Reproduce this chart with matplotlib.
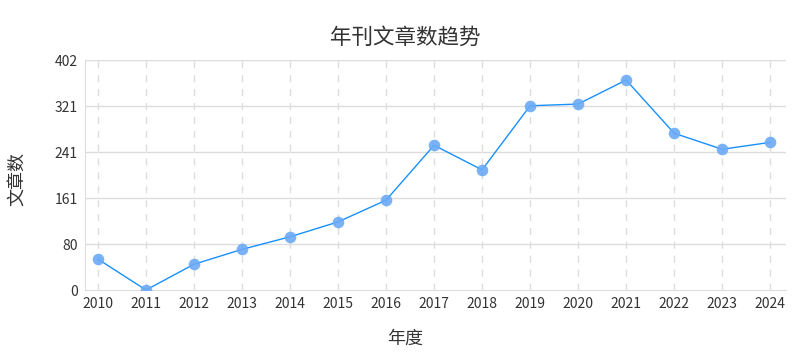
import matplotlib
matplotlib.use("Agg")
import matplotlib.pyplot as plt
import numpy as np

plt.rcParams['font.family'] = ['Noto Sans CJK SC', 'DejaVu Sans']

years = ['2010', '2011', '2012', '2013', '2014', '2015', '2016', '2017',
         '2018', '2019', '2020', '2021', '2022', '2023', '2024']
counts = [54, 0, 45, 71, 93, 119, 157, 253, 210, 322, 325, 367, 274, 246, 258]
y_max = 402
y_ticks = [0, 80.4, 160.8, 241.2, 321.6, 402]
y_tick_labels = ['0', '80', '161', '241', '321', '402']

fig = plt.figure(figsize=(8.1, 3.6), dpi=100)
ax = fig.add_axes([85/810, 1-290/360, (786-85)/810, 230/360])

x = np.arange(len(years))
ax.plot(x, counts, color='#1890ff', linewidth=1, zorder=3)
ax.scatter(x, counts, s=70, color='#6aaaf5', alpha=0.9, zorder=4, linewidths=0)

ax.set_xlim(-0.27, len(years) - 1 + 0.33)
ax.set_ylim(0, y_max)
ax.set_xticks(x)
ax.set_xticklabels(years)
ax.set_yticks(y_ticks)
ax.set_yticklabels(y_tick_labels)

for yt in y_ticks[1:]:
    ax.axhline(yt, color='#dddddd', linewidth=1, zorder=1)
for xi in x:
    ax.axvline(xi, color='#dddddd', linewidth=1, linestyle=(0, (5, 5)), zorder=1)

for s in ['top', 'right']:
    ax.spines[s].set_visible(False)
ax.spines['left'].set_color('#dddddd')
ax.spines['bottom'].set_color('#dddddd')
ax.tick_params(axis='both', length=0, labelsize=10, colors='#333333', pad=5)
ax.tick_params(axis='y', pad=5)

fig.text(405/810, 1-38/360, '年刊文章数趋势', ha='center', va='center', fontsize=15.5, color='#333333')
fig.text(18/810, 1-179/360, '文章数', ha='center', va='center', rotation=90, fontsize=13, color='#333333')
fig.text(405/810, 1-339/360, '年度', ha='center', va='center', fontsize=13, color='#333333')

fig.savefig('out.png', dpi=100)
